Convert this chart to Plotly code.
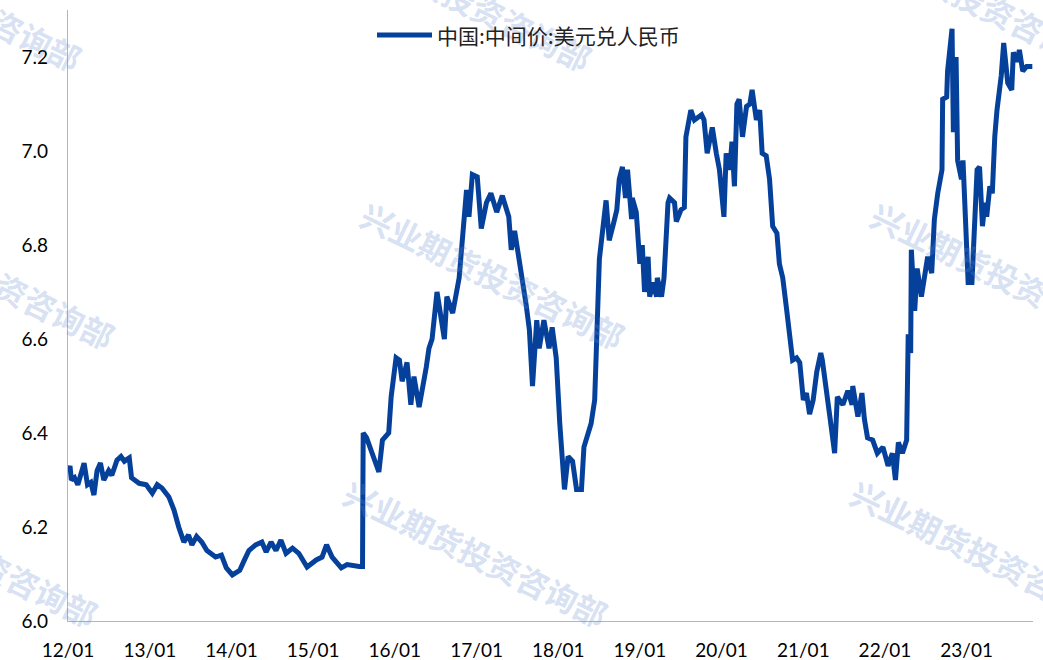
import plotly.graph_objects as go

# ---- data: USD/CNY central parity ----
dates = [
    "2012-01-04","2012-01-10","2012-01-16","2012-01-30","2012-02-14","2012-03-13","2012-03-28","2012-04-12",
    "2012-04-26","2012-05-10","2012-05-25","2012-06-09","2012-07-01","2012-07-15","2012-08-07","2012-08-25",
    "2012-09-09","2012-10-01","2012-10-11","2012-11-14","2012-12-16","2013-01-12","2013-02-03","2013-02-24",
    "2013-03-27","2013-04-19","2013-05-10","2013-06-02","2013-06-23","2013-07-08","2013-07-29","2013-08-21",
    "2013-09-13","2013-10-22","2013-11-17","2013-12-09","2014-01-05","2014-02-07","2014-02-28","2014-03-20",
    "2014-04-19","2014-05-17","2014-06-05","2014-06-27","2014-07-19","2014-08-10","2014-09-02","2014-10-01",
    "2014-10-29","2014-12-05","2015-01-15","2015-02-10","2015-03-02","2015-03-27","2015-05-07","2015-06-02",
    "2015-07-26","2015-08-10","2015-08-11","2015-08-13","2015-08-28","2015-09-20","2015-10-22","2015-11-07",
    "2015-12-05","2015-12-16","2016-01-07","2016-01-22","2016-02-03","2016-02-25","2016-03-13","2016-03-27",
    "2016-04-19","2016-05-21","2016-06-02","2016-06-16","2016-07-08","2016-08-10","2016-08-21","2016-09-16",
    "2016-10-15","2016-11-07","2016-11-17","2016-11-28","2016-12-13","2017-01-04","2017-01-22","2017-02-14",
    "2017-03-06","2017-04-01","2017-04-26","2017-05-25","2017-06-05","2017-06-20","2017-07-11","2017-08-10",
    "2017-08-25","2017-09-08","2017-09-27","2017-10-08","2017-10-29","2017-11-21","2017-12-05","2017-12-23",
    "2018-01-08","2018-01-29","2018-02-14","2018-03-06","2018-03-24","2018-04-15","2018-04-26","2018-05-28",
    "2018-06-13","2018-06-20","2018-07-04","2018-08-03","2018-08-17","2018-09-05","2018-09-20","2018-10-01",
    "2018-10-15","2018-10-29","2018-11-07","2018-11-25","2018-11-28","2018-12-16","2019-01-01","2019-01-12",
    "2019-01-22","2019-02-07","2019-02-14","2019-02-28","2019-03-17","2019-03-20","2019-04-08","2019-04-19",
    "2019-05-07","2019-05-14","2019-06-05","2019-06-13","2019-07-04","2019-07-19","2019-07-26","2019-08-17",
    "2019-09-02","2019-10-04","2019-10-15","2019-10-29","2019-11-21","2019-12-09","2019-12-23","2020-01-12",
    "2020-01-22","2020-02-07","2020-02-17","2020-02-28","2020-03-10","2020-03-20","2020-04-04","2020-04-22",
    "2020-05-07","2020-05-17","2020-06-05","2020-06-20","2020-07-01","2020-07-19","2020-08-03","2020-08-17",
    "2020-09-05","2020-09-16","2020-10-01","2020-10-19","2020-11-03","2020-11-14","2020-12-02","2020-12-16",
    "2021-01-01","2021-01-15","2021-01-29","2021-02-14","2021-03-02","2021-03-20","2021-03-27","2021-04-19",
    "2021-05-01","2021-05-21","2021-06-02","2021-06-27","2021-07-19","2021-08-07","2021-08-10","2021-09-02",
    "2021-09-20","2021-10-01","2021-10-15","2021-11-07","2021-11-28","2021-12-23","2022-01-15","2022-02-03",
    "2022-02-17","2022-03-02","2022-03-20","2022-04-08","2022-04-15","2022-04-26","2022-04-29","2022-05-14",
    "2022-05-25","2022-06-13","2022-06-27","2022-07-11","2022-07-29","2022-08-10","2022-08-25","2022-09-13",
    "2022-09-16","2022-10-04","2022-10-08","2022-10-28","2022-11-03","2022-11-15","2022-11-22","2022-12-09",
    "2022-12-16","2023-01-01","2023-01-08","2023-01-25","2023-02-03","2023-02-17","2023-02-28","2023-03-13",
    "2023-03-24","2023-04-01","2023-04-15","2023-04-26","2023-05-07","2023-05-17","2023-06-05","2023-06-16",
    "2023-07-04","2023-07-22","2023-07-29","2023-08-14","2023-08-25","2023-09-09","2023-09-27","2023-10-22",
]
usdcny = [
    6.32, 6.33, 6.30, 6.305, 6.29, 6.336, 6.29, 6.295,
    6.268, 6.32, 6.336, 6.30, 6.32, 6.31, 6.342, 6.35,
    6.34, 6.347, 6.305, 6.293, 6.29, 6.272, 6.29, 6.283,
    6.264, 6.236, 6.20, 6.168, 6.183, 6.162, 6.18, 6.168,
    6.15, 6.136, 6.14, 6.113, 6.098, 6.108, 6.13, 6.15,
    6.162, 6.168, 6.147, 6.168, 6.15, 6.172, 6.144, 6.155,
    6.144, 6.115, 6.13, 6.136, 6.162, 6.136, 6.113, 6.12,
    6.116, 6.116, 6.23, 6.40, 6.39, 6.36, 6.317, 6.385,
    6.40, 6.477, 6.56, 6.555, 6.51, 6.55, 6.46, 6.52,
    6.455, 6.54, 6.58, 6.60, 6.70, 6.60, 6.69, 6.655,
    6.73, 6.86, 6.917, 6.86, 6.95, 6.945, 6.835, 6.89,
    6.91, 6.87, 6.905, 6.86, 6.79, 6.83, 6.77, 6.675,
    6.62, 6.50, 6.64, 6.58, 6.64, 6.58, 6.625, 6.56,
    6.42, 6.28, 6.35, 6.34, 6.28, 6.28, 6.37, 6.42,
    6.47, 6.58, 6.77, 6.895, 6.81, 6.845, 6.875, 6.94,
    6.966, 6.90, 6.96, 6.855, 6.90, 6.87, 6.76, 6.80,
    6.70, 6.775, 6.69, 6.72, 6.69, 6.73, 6.69, 6.73,
    6.89, 6.90, 6.89, 6.85, 6.875, 6.88, 7.03, 7.087,
    7.066, 7.077, 7.066, 6.995, 7.05, 6.995, 6.96, 6.86,
    6.995, 6.96, 7.02, 6.925, 7.10, 7.11, 7.03, 7.095,
    7.10, 7.13, 7.066, 7.087, 6.995, 6.99, 6.94, 6.84,
    6.825, 6.76, 6.73, 6.66, 6.605, 6.555, 6.56, 6.55,
    6.47, 6.485, 6.44, 6.47, 6.53, 6.57, 6.555, 6.46,
    6.43, 6.357, 6.477, 6.46, 6.49, 6.46, 6.50, 6.435,
    6.485, 6.43, 6.39, 6.385, 6.357, 6.37, 6.33, 6.357,
    6.30, 6.38, 6.357, 6.385, 6.61, 6.57, 6.79, 6.66,
    6.75, 6.69, 6.74, 6.775, 6.74, 6.855, 6.91, 6.96,
    7.11, 7.115, 7.17, 7.26, 7.04, 7.20, 6.98, 6.94,
    6.98, 6.78, 6.72, 6.72, 6.82, 6.96, 6.966, 6.84,
    6.89, 6.86, 6.925, 6.91, 7.03, 7.087, 7.16, 7.23,
    7.145, 7.13, 7.21, 7.19, 7.215, 7.17, 7.18, 7.18,
]
series_name = "中国:中间价:美元兑人民币"
watermark_text = "兴业期货投资咨询部"

W, H = 1043, 660
ML, MR, MT, MB = 68, 10, 10, 39
PW, PH = W - ML - MR, H - MT - MB
LINE_COLOR = "#05419b"


def px_to_paper(px, py):
    return (px - ML) / PW, (H - MB - py) / PH


fig = go.Figure()
fig.add_trace(go.Scatter(
    x=dates, y=usdcny, mode="lines", name=series_name,
    line=dict(color=LINE_COLOR, width=5), showlegend=False,
))

# watermarks (pixel centres -> paper coords)
wm_centres = [(-50, -3), (460, -3), (970, -3),
              (-17, 275), (493, 275), (1003, 275),
              (-34, 553), (476, 553), (983, 553)]
for (px, py) in wm_centres:
    xp, yp = px_to_paper(px, py)
    fig.add_annotation(
        x=xp, y=yp, xref="paper", yref="paper",
        text="<b>" + watermark_text + "</b>", showarrow=False, textangle=26,
        font=dict(family="Noto Sans CJK SC", size=32, color="rgba(100,140,210,0.27)"),
        xanchor="center", yanchor="middle",
    )

# legend (top centre): swatch + label
lx0, ly = px_to_paper(377, 35)
lx1, _ = px_to_paper(432, 35)
fig.add_shape(type="line", xref="paper", yref="paper", x0=lx0, x1=lx1, y0=ly, y1=ly,
              line=dict(color=LINE_COLOR, width=5), layer="above")
tx, _ = px_to_paper(435, 35)
fig.add_annotation(x=tx, y=ly, xref="paper", yref="paper", text=series_name,
                   showarrow=False, xanchor="left", yanchor="middle",
                   font=dict(family="Noto Sans CJK SC", size=21, color="#222"))

fig.update_layout(
    width=W, height=H,
    margin=dict(l=ML, r=MR, t=MT, b=MB, autoexpand=False),
    paper_bgcolor="white", plot_bgcolor="white",
    font=dict(family="Lato, Noto Sans CJK SC", size=19, color="black"),
    showlegend=False,
)
fig.update_xaxes(
    type="date", range=["2012-01-01", "2023-10-25"],
    tick0="2012-01-01", dtick="M12", tickformat="%y/%m",
    showgrid=False, zeroline=False, showline=True, linecolor="#b5b5b5", linewidth=1.3,
    ticks="", ticklabelstandoff=12, automargin=False,
)
fig.update_yaxes(
    range=[6.0, 7.3], dtick=0.2, tick0=6.0, tickformat=".1f",
    showgrid=False, zeroline=False, showline=True, linecolor="#b5b5b5", linewidth=1.3,
    ticks="", ticklabelstandoff=15, automargin=False,
)

fig.write_html("out.html", config={"displayModeBar": False},
               post_script="document.body.style.margin='0';")
